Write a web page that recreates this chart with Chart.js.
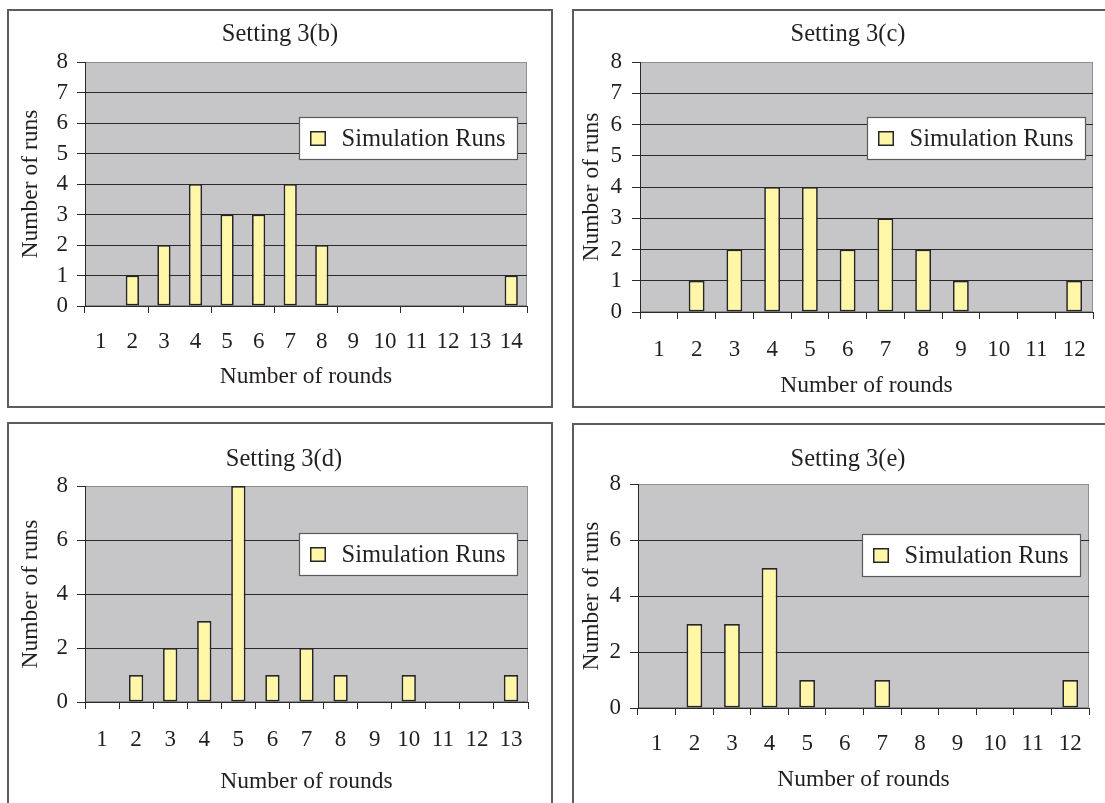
<!DOCTYPE html>
<html>
<head>
<meta charset="utf-8">
<title>Number of rounds per simulation run</title>
<script src="https://cdn.jsdelivr.net/npm/chart.js@4.4.1/dist/chart.umd.min.js"></script>
<style>
  html, body { margin: 0; padding: 0; background: #fff; overflow: hidden; width: 1105px; height: 803px; }
  .panel { position: absolute; }
  .panel canvas { position: absolute; left: 0; top: 0; }
  .frame { position: absolute; left: 0; top: 0; right: 0; bottom: 0; border: 2px solid #5c5c5c; box-sizing: border-box; pointer-events: none; }
</style>
</head>
<body>
<div class="panel" style="left:7px;top:9px;width:546px;height:399px"><canvas id="chart3b" width="546" height="399"></canvas><div class="frame"></div></div>
<div class="panel" style="left:572px;top:9px;width:546px;height:399px"><canvas id="chart3c" width="546" height="399"></canvas><div class="frame"></div></div>
<div class="panel" style="left:7px;top:422px;width:546px;height:399px"><canvas id="chart3d" width="546" height="399"></canvas><div class="frame"></div></div>
<div class="panel" style="left:572px;top:423px;width:546px;height:399px"><canvas id="chart3e" width="546" height="399"></canvas><div class="frame"></div></div>

<script>
// Histogram data: how many simulation runs finished after a given number of rounds.
const rounds3b = ['1', '2', '3', '4', '5', '6', '7', '8', '9', '10', '11', '12', '13', '14'];
const runs3b   = [0, 1, 2, 4, 3, 3, 4, 2, 0, 0, 0, 0, 0, 1];

const rounds3c = ['1', '2', '3', '4', '5', '6', '7', '8', '9', '10', '11', '12'];
const runs3c   = [0, 1, 2, 4, 4, 2, 3, 2, 1, 0, 0, 1];

const rounds3d = ['1', '2', '3', '4', '5', '6', '7', '8', '9', '10', '11', '12', '13'];
const runs3d   = [0, 1, 2, 3, 8, 1, 2, 1, 0, 1, 0, 0, 1];

const rounds3e = ['1', '2', '3', '4', '5', '6', '7', '8', '9', '10', '11', '12'];
const runs3e   = [0, 3, 3, 5, 1, 0, 1, 0, 0, 0, 0, 1];

const seriesName = 'Simulation Runs';
const yMax = 8;

const SERIF = "'Liberation Serif', 'Times New Roman', serif";
const INK = '#231f20';
const PLOT_GRAY = '#c6c6c8';
const BAR_FILL = '#fff6a8';
const BAR_EDGE = '#262626';
const TEXT_SIZE = 24.5;
const AXIS_TITLE_SIZE = 23.5;
const TICK_SIZE = 23;

// Grey plot area with a thin outline, drawn beneath grid lines and bars.
const plotFill = {
  id: 'plotFill',
  beforeDraw(chart) {
    const { ctx, chartArea: a } = chart;
    ctx.save();
    ctx.fillStyle = PLOT_GRAY;
    ctx.fillRect(a.left, a.top, a.right - a.left, a.bottom - a.top);
    ctx.strokeStyle = '#8e8e8e';
    ctx.lineWidth = 1;
    ctx.strokeRect(a.left + 0.5, a.top + 0.5, a.right - a.left - 1, a.bottom - a.top - 1);
    ctx.restore();
  }
};

// Boxed legend placed inside the plot area.
const insetLegend = {
  id: 'insetLegend',
  afterDraw(chart, args, opts) {
    const { ctx, chartArea: a } = chart;
    const ds = chart.data.datasets[0];
    ctx.save();
    ctx.font = opts.fontSize + 'px ' + SERIF;
    const tw = ctx.measureText(ds.label).width;
    const w = Math.round(42 + tw + 12);
    const h = opts.height;
    const x = Math.round(a.right - opts.right - w) + 0.5;
    const y = Math.round(a.top + opts.top) + 0.5;
    ctx.fillStyle = '#ffffff';
    ctx.fillRect(x, y, w, h);
    ctx.strokeStyle = '#5a5a5a';
    ctx.lineWidth = 1.2;
    ctx.strokeRect(x, y, w, h);
    const sq = 15;
    const sx = Math.round(x + 10);
    const sy = Math.round(y + (h - sq) / 2);
    ctx.fillStyle = ds.backgroundColor;
    ctx.fillRect(sx, sy, sq + 1, sq);
    ctx.strokeStyle = ds.borderColor;
    ctx.lineWidth = 1.5;
    ctx.strokeRect(sx + 0.75, sy + 0.75, sq - 0.5, sq - 1.5);
    ctx.fillStyle = INK;
    ctx.textBaseline = 'middle';
    ctx.textAlign = 'left';
    ctx.fillText(ds.label, x + 42, y + h / 2 + 1);
    ctx.restore();
  }
};

function makeChart(id, cfg) {
  const g = cfg.geom;
  return new Chart(document.getElementById(id), {
    type: 'bar',
    data: {
      labels: cfg.labels,
      datasets: [{
        label: seriesName,
        data: cfg.values,
        backgroundColor: BAR_FILL,
        borderColor: BAR_EDGE,
        borderWidth: 1.7,
        borderSkipped: false,
        barPercentage: 0.42,
        categoryPercentage: 1
      }]
    },
    options: {
      responsive: false,
      animation: false,
      events: [],
      layout: { padding: { left: g.padLeft, right: g.padRight, top: 0, bottom: 0 } },
      plugins: {
        legend: { display: false },
        tooltip: { enabled: false },
        title: {
          display: true,
          text: cfg.title,
          color: INK,
          font: { family: SERIF, size: TEXT_SIZE, weight: 'normal', lineHeight: 1.2 },
          padding: { top: g.titleTop, bottom: g.titleBottom }
        },
        insetLegend: { fontSize: TEXT_SIZE, height: 42, right: g.legendRight, top: g.legendTop }
      },
      scales: {
        x: {
          type: 'category',
          offset: true,
          grid: {
            offset: true,
            drawOnChartArea: false,
            drawTicks: true,
            tickLength: 7,
            tickWidth: 1,
            tickColor: (ctx) => {
              if (ctx.index === undefined) return '#2a2a2a';
              return ctx.index % g.tickEvery === 0 ? '#2a2a2a' : 'rgba(0,0,0,0)';
            }
          },
          border: { display: true, color: '#2a2a2a', width: 1 },
          ticks: {
            color: INK,
            autoSkip: false,
            maxRotation: 0,
            padding: g.xLabelPad,
            font: { family: SERIF, size: TICK_SIZE, lineHeight: 1.2 }
          },
          title: {
            display: true,
            text: 'Number of rounds',
            color: INK,
            font: { family: SERIF, size: AXIS_TITLE_SIZE, lineHeight: 1.2 },
            padding: { top: 0, bottom: g.xTitlePad }
          },
          afterFit: (s) => { s.height = g.xAxisHeight; }
        },
        y: {
          min: 0,
          max: yMax,
          grid: {
            drawTicks: true,
            tickLength: 8,
            tickColor: '#2a2a2a',
            color: (ctx) => (ctx.tick && ctx.tick.value === yMax) ? 'rgba(0,0,0,0)' : '#2a2a2a',
            lineWidth: 1
          },
          border: { display: true, color: '#2a2a2a', width: 1 },
          ticks: {
            stepSize: cfg.yStep,
            autoSkip: false,
            color: INK,
            padding: g.yLabelPad,
            font: { family: SERIF, size: TICK_SIZE, lineHeight: 1.2 }
          },
          title: {
            display: true,
            text: 'Number of runs',
            color: INK,
            font: { family: SERIF, size: AXIS_TITLE_SIZE, lineHeight: 1.2 },
            padding: { top: g.yTitlePad, bottom: 0 }
          },
          afterFit: (s) => { s.width = g.yAxisWidth; }
        }
      }
    },
    plugins: [plotFill, insetLegend]
  });
}

makeChart('chart3b', {
  title: 'Setting 3(b)', labels: rounds3b, values: runs3b, yStep: 1,
  geom: { padLeft: 26, padRight: 26, yAxisWidth: 52, titleTop: 10.8, titleBottom: 12.8,
          xAxisHeight: 102, xLabelPad: 15, xTitlePad: 17, yLabelPad: 9, yTitlePad: -16.4,
          tickEvery: 2, legendRight: 10, legendTop: 55 }
});

makeChart('chart3c', {
  title: 'Setting 3(c)', labels: rounds3c, values: runs3c, yStep: 1,
  geom: { padLeft: 31, padRight: 25, yAxisWidth: 37, titleTop: 10.8, titleBottom: 12.8,
          xAxisHeight: 96, xLabelPad: 17, xTitlePad: 8.2, yLabelPad: 10, yTitlePad: -25.4,
          tickEvery: 1, legendRight: 8, legendTop: 55 }
});

makeChart('chart3d', {
  title: 'Setting 3(d)', labels: rounds3d, values: runs3d, yStep: 2,
  geom: { padLeft: 33, padRight: 25, yAxisWidth: 45, titleTop: 22.8, titleBottom: 11.8,
          xAxisHeight: 119, xLabelPad: 17, xTitlePad: 25, yLabelPad: 9, yTitlePad: -23.4,
          tickEvery: 1, legendRight: 11, legendTop: 47 }
});

makeChart('chart3e', {
  title: 'Setting 3(e)', labels: rounds3e, values: runs3e, yStep: 2,
  geom: { padLeft: 35, padRight: 29, yAxisWidth: 31, titleTop: 21.8, titleBottom: 9.8,
          xAxisHeight: 114, xLabelPad: 15, xTitlePad: 28, yLabelPad: 9, yTitlePad: -29.4,
          tickEvery: 1, legendRight: 9, legendTop: 50 }
});
</script>
</body>
</html>
